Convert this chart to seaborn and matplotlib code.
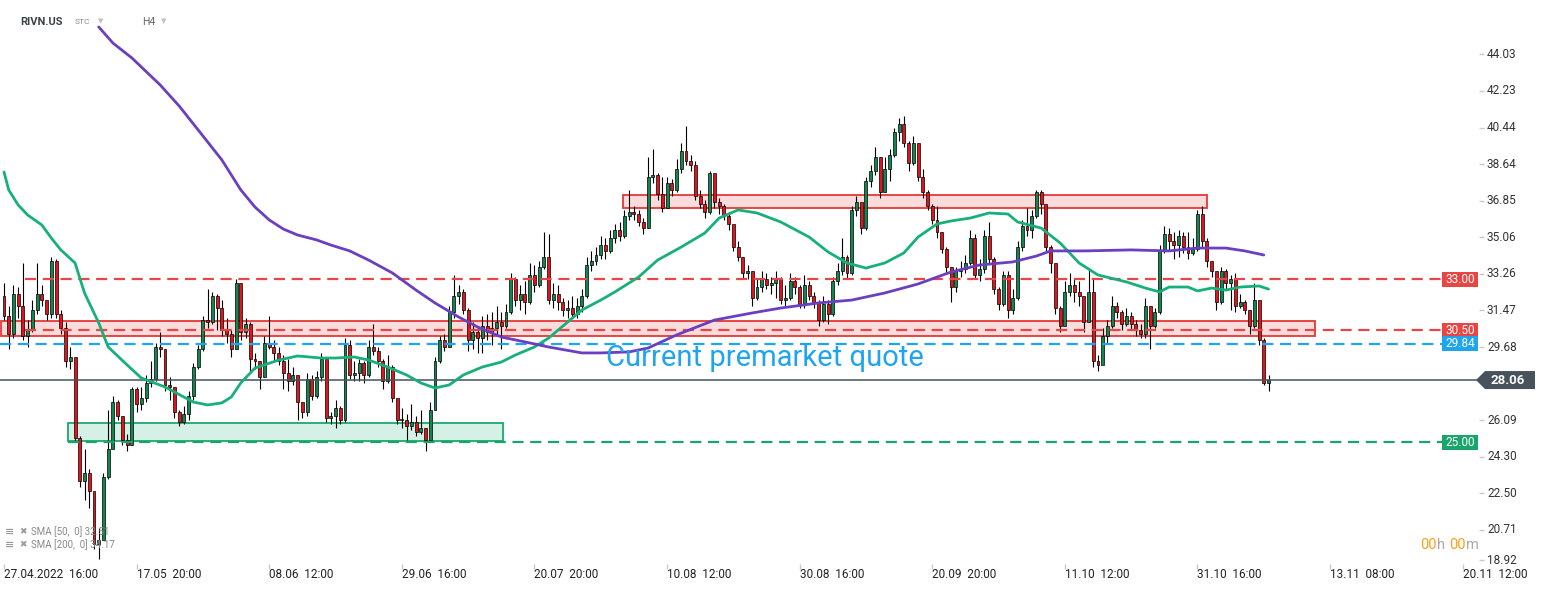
import numpy as np
import pandas as pd
import matplotlib
matplotlib.use("Agg")
import matplotlib.pyplot as plt
import seaborn as sns
from matplotlib.patches import Rectangle, Polygon

# --- RIVN.US H4 candles (open of each bar = previous close) ---
first_open = 32.2
closes = [31.2, 30.3, 32.3, 31.7, 30.2, 30.5, 31.5, 32.3, 32.0, 31.3,
          33.9, 31.3, 30.6, 29.0, 29.2, 25.2, 23.1, 23.5, 22.6, 20.0,
          20.2, 23.3, 24.7, 27.0, 26.3, 25.1, 24.9, 27.6, 26.9, 27.2,
          27.9, 28.1, 29.7, 29.6, 27.8, 27.7, 26.5, 26.0, 26.4, 27.3,
          28.7, 29.6, 31.0, 30.9, 32.2, 31.6, 30.5, 30.3, 29.6, 32.8,
          30.4, 30.8, 29.1, 29.0, 28.2, 29.9, 29.7, 29.4, 29.0, 28.4,
          28.0, 28.3, 27.0, 26.5, 28.1, 27.3, 28.2, 29.1, 26.2, 26.3,
          26.7, 26.1, 29.8, 28.3, 28.4, 28.9, 28.3, 29.7, 29.5, 29.0,
          28.0, 28.7, 27.2, 26.1, 26.1, 25.8, 26.0, 25.5, 25.7, 25.1,
          26.6, 29.0, 30.0, 29.7, 31.4, 32.2, 32.4, 31.5, 30.0, 30.4,
          30.1, 30.7, 30.4, 30.6, 30.9, 30.7, 31.4, 33.0, 32.0, 32.3,
          31.9, 33.2, 32.7, 33.6, 34.1, 32.0, 32.3, 31.9, 31.5, 31.6,
          31.3, 31.7, 32.2, 33.7, 33.9, 34.2, 34.7, 34.4, 35.0, 35.4,
          35.1, 36.1, 36.3, 36.2, 35.8, 35.5, 38.0, 38.1, 37.2, 36.5,
          37.7, 37.4, 38.4, 39.3, 38.8, 38.6, 37.1, 36.7, 36.3, 38.2,
          36.8, 36.6, 36.1, 35.7, 34.6, 34.1, 33.3, 33.4, 32.1, 32.6,
          33.0, 32.7, 32.8, 33.0, 32.0, 32.1, 32.9, 32.6, 31.8, 32.7,
          32.2, 31.9, 31.0, 31.8, 31.3, 32.9, 33.4, 34.1, 33.3, 36.4,
          36.8, 35.5, 37.8, 38.3, 39.0, 37.3, 38.4, 39.1, 40.2, 40.6,
          39.7, 38.7, 39.7, 38.0, 37.3, 36.6, 35.9, 35.3, 34.5, 33.6,
          32.6, 33.4, 33.5, 33.8, 35.0, 33.2, 33.5, 35.1, 34.0, 32.5,
          31.8, 33.2, 31.5, 32.1, 34.6, 35.6, 35.4, 36.1, 37.3, 36.7,
          34.6, 33.8, 31.6, 30.7, 32.4, 32.7, 32.4, 32.2, 30.9, 32.4,
          29.0, 28.8, 30.2, 30.7, 31.7, 31.4, 30.8, 31.2, 30.8, 30.5,
          30.3, 31.7, 30.7, 31.4, 34.4, 35.2, 34.9, 34.7, 35.1, 34.6,
          34.3, 34.5, 36.2, 34.9, 33.9, 33.4, 31.9, 33.4, 32.8, 33.0,
          31.7, 31.9, 31.5, 30.7, 32.0, 30.0, 27.9, 28.06]
highs = [32.8, 31.7, 32.7, 32.6, 33.8, 31.0, 32.0, 33.8, 32.7, 31.9,
         34.1, 34.0, 31.5, 30.9, 29.7, 26.0, 25.3, 24.7, 23.7, 22.5,
         20.8, 23.5, 26.6, 27.3, 27.1, 26.3, 25.4, 27.7, 27.7, 27.7,
         28.3, 29.0, 29.9, 30.4, 29.6, 28.2, 27.4, 26.6, 26.8, 27.5,
         28.9, 29.8, 31.2, 32.5, 32.4, 32.3, 32.0, 31.1, 30.5, 33.0,
         32.6, 31.1, 30.9, 29.4, 29.0, 30.2, 31.2, 30.0, 29.7, 29.3,
         29.1, 28.7, 28.0, 27.0, 28.4, 28.3, 28.5, 29.4, 28.7, 26.5,
         27.1, 26.8, 30.1, 30.0, 29.0, 29.1, 29.0, 30.0, 30.8, 29.7,
         29.1, 29.3, 28.8, 27.1, 26.7, 26.4, 26.9, 26.3, 26.6, 25.7,
         27.0, 29.2, 30.2, 30.3, 31.7, 33.2, 32.7, 32.5, 31.6, 30.9,
         30.7, 31.2, 31.3, 31.4, 31.7, 31.4, 31.8, 33.3, 33.1, 32.7,
         32.9, 33.8, 33.7, 33.9, 35.3, 35.2, 32.8, 32.7, 32.1, 32.0,
         32.2, 32.1, 32.5, 34.1, 34.4, 34.6, 35.1, 35.0, 35.4, 35.7,
         35.8, 36.4, 37.4, 36.6, 36.4, 36.0, 39.0, 39.4, 38.2, 38.0,
         38.0, 37.9, 38.9, 39.7, 40.5, 39.1, 38.8, 37.4, 36.9, 38.3,
         38.1, 37.0, 36.7, 36.2, 35.5, 34.9, 34.1, 33.7, 33.3, 33.0,
         33.4, 33.3, 33.1, 33.4, 33.1, 32.7, 33.3, 33.1, 32.7, 33.2,
         32.9, 32.4, 32.0, 32.2, 32.0, 33.1, 33.8, 35.0, 34.2, 36.6,
         37.1, 36.7, 38.0, 38.6, 39.5, 39.0, 39.0, 39.4, 40.4, 40.9,
         41.0, 39.8, 40.0, 39.6, 38.4, 37.4, 36.7, 36.6, 35.3, 34.6,
         33.6, 33.6, 33.9, 34.2, 35.4, 35.2, 34.0, 35.4, 35.8, 34.1,
         32.6, 33.4, 33.4, 32.5, 34.9, 35.9, 36.5, 36.4, 37.4, 37.4,
         36.3, 34.7, 32.3, 31.7, 32.9, 33.3, 33.0, 32.9, 31.8, 33.5,
         33.0, 29.3, 30.6, 31.0, 32.2, 31.9, 31.5, 31.6, 31.4, 31.0,
         30.8, 32.1, 31.7, 31.6, 34.7, 35.6, 35.5, 35.3, 35.4, 35.3,
         35.3, 35.0, 36.4, 36.6, 35.0, 33.9, 33.1, 33.6, 33.5, 33.2,
         33.3, 32.3, 32.0, 31.5, 32.8, 32.0, 30.1, 28.3]
lows = [31.0, 29.6, 30.1, 31.1, 30.0, 29.7, 30.4, 31.3, 31.7, 31.0,
        31.1, 31.1, 30.3, 28.7, 28.6, 25.0, 22.8, 22.2, 21.8, 19.8,
        19.3, 22.1, 23.2, 24.8, 26.1, 24.9, 24.6, 24.9, 26.5, 26.6,
        27.0, 27.7, 28.0, 29.2, 27.5, 27.1, 26.2, 25.8, 25.9, 26.1,
        27.1, 28.6, 29.5, 30.6, 30.8, 30.5, 30.2, 29.9, 29.2, 29.6,
        30.0, 30.1, 28.5, 28.6, 27.6, 28.2, 29.6, 29.0, 28.8, 27.6,
        27.5, 27.8, 26.1, 26.2, 26.3, 27.1, 27.2, 28.0, 26.0, 25.9,
        25.7, 25.9, 26.0, 28.1, 28.0, 28.0, 27.9, 28.2, 29.3, 28.7,
        27.6, 27.9, 27.0, 25.9, 25.7, 25.1, 25.6, 25.3, 25.4, 24.6,
        25.1, 26.6, 28.9, 29.5, 29.7, 31.1, 31.8, 31.3, 29.5, 29.6,
        29.4, 29.4, 30.0, 29.8, 30.3, 29.6, 30.6, 31.3, 31.7, 31.5,
        31.3, 31.8, 32.4, 32.6, 33.5, 31.8, 31.6, 31.5, 31.2, 31.1,
        31.1, 31.1, 31.4, 32.1, 33.4, 33.7, 34.0, 34.0, 34.3, 34.8,
        34.9, 35.0, 35.9, 35.9, 35.6, 35.2, 35.5, 37.7, 36.9, 36.3,
        36.5, 37.1, 37.3, 38.2, 38.6, 38.3, 36.9, 36.5, 36.0, 36.2,
        36.5, 36.2, 35.9, 35.4, 34.4, 33.9, 33.0, 33.0, 31.7, 32.0,
        32.4, 32.5, 32.3, 32.1, 31.8, 31.7, 32.0, 32.3, 31.6, 31.6,
        32.0, 31.6, 30.7, 30.9, 30.8, 31.2, 32.7, 33.2, 33.0, 33.2,
        36.1, 35.2, 35.4, 37.5, 38.1, 37.0, 37.3, 37.8, 39.0, 39.8,
        39.5, 38.3, 38.6, 37.8, 37.0, 36.4, 35.7, 35.0, 34.3, 33.3,
        31.9, 32.4, 33.1, 33.3, 33.7, 33.0, 32.9, 33.3, 33.8, 32.3,
        31.5, 31.7, 31.1, 31.3, 32.0, 34.4, 35.1, 35.0, 36.0, 36.2,
        34.4, 33.3, 31.3, 30.4, 30.9, 32.2, 31.9, 31.7, 30.4, 30.9,
        28.7, 28.5, 28.9, 29.9, 30.6, 31.1, 30.5, 30.7, 30.5, 30.2,
        30.1, 30.1, 29.6, 30.6, 31.3, 34.3, 34.4, 34.0, 34.1, 34.3,
        34.0, 34.2, 34.4, 34.6, 33.6, 33.1, 31.5, 31.8, 32.5, 31.5,
        31.4, 31.6, 31.3, 30.3, 30.6, 29.8, 27.8, 27.5]

# --- moving averages (at bar positions) ---
sma50_idx = [0, 1, 3, 5, 8, 10, 12, 15, 17, 20, 22, 26, 29, 34, 40, 43, 46, 48, 50, 53,
             58, 62, 67, 70, 74, 77, 81, 85, 88, 91, 94, 97, 101, 105, 108, 112, 115, 117, 122, 126,
             129, 134, 138, 143, 148, 151, 155, 159, 164, 170, 174, 178, 182, 186, 190, 193, 197, 200, 204, 208,
             212, 214, 219, 223, 227, 231, 237, 241, 244, 246, 250, 252, 255, 258, 261, 265, 267]
sma50_val = [38.26, 37.38, 36.64, 36.15, 35.66, 35.02, 34.44, 33.80, 32.33, 30.86,
             29.68, 28.80, 28.16, 27.72, 26.98, 26.84, 26.94, 27.23, 27.92, 28.65,
             29.04, 29.24, 29.14, 29.14, 29.19, 29.04, 28.70, 28.31, 27.92, 27.67,
             27.82, 28.31, 28.70, 28.94, 29.29, 29.68, 30.12, 30.51, 31.49, 31.98,
             32.38, 33.11, 33.94, 34.58, 35.27, 36.00, 36.40, 36.25, 35.81, 35.07,
             34.34, 33.80, 33.55, 33.80, 34.29, 35.07, 35.71, 35.86, 36.00, 36.25,
             36.20, 35.81, 35.51, 34.78, 33.80, 33.21, 32.87, 32.57, 32.38, 32.62,
             32.62, 32.43, 32.57, 32.47, 32.62, 32.67, 32.52]
sma200_idx = [20, 23, 27, 33, 37, 41, 46, 50, 53, 56, 59, 62, 66, 69, 73, 77, 82, 87, 91, 96,
              100, 105, 110, 115, 122, 126, 132, 136, 142, 150, 158, 164, 172, 179, 186, 193, 200, 206, 213, 218,
              221, 228, 238, 246, 252, 258, 262, 266]
sma200_val = [45.37, 44.58, 43.85, 42.52, 41.49, 40.32, 38.85, 37.38, 36.54, 35.91,
              35.46, 35.17, 34.93, 34.68, 34.39, 33.94, 33.31, 32.47, 31.84, 31.15,
              30.66, 30.17, 29.93, 29.68, 29.39, 29.39, 29.44, 29.63, 30.27, 31.00,
              31.35, 31.59, 31.84, 31.98, 32.33, 32.77, 33.36, 33.70, 33.85, 34.14,
              34.39, 34.39, 34.44, 34.39, 34.53, 34.53, 34.39, 34.19]

# --- drawn levels and zones ---
level_values = [33.00, 30.50, 29.84, 25.00]
level_labels = ["33.00", "30.50", "29.84", "25.00"]
level_colors = ["#e84545", "#e84545", "#1ea5ee", "#19a46c"]
level_start = [4.4, 4.4, -0.8, 13.5]
last_price = 28.06

zone_start = [130.7, -0.6, 13.5]
zone_end = [254.0, 276.8, 105.4]
zone_low = [36.49, 30.22, 25.05]
zone_high = [37.13, 30.95, 25.95]
zone_kind = ["red", "red", "green"]

y_ticks = [18.92, 20.71, 22.50, 24.30, 26.09, 29.68, 31.47, 33.26, 35.06, 36.85, 38.64, 40.44, 42.23, 44.03]
x_labels = ["27.04.2022  16:00", "17.05  20:00", "08.06  12:00", "29.06  16:00", "20.07  20:00",
            "10.08  12:00", "30.08  16:00", "20.09  20:00", "11.10  12:00", "31.10  16:00",
            "13.11  08:00", "20.11  12:00"]
bars_per_label = 28


# pixel -> data helpers for placing annotations
def dx(px):
    return (px - 4) / 4.736


def dy(py):
    return 46.69 - py / 20.4


sns.set_style("white")
plt.rcParams['font.family'] = ['Roboto', 'DejaVu Sans']

fig = plt.figure(figsize=(15.46, 5.9), dpi=100)
ax = fig.add_axes([0, 0, 1, 1])

# zones
for s, e, lo, hi, kind in zip(zone_start, zone_end, zone_low, zone_high, zone_kind):
    if kind == "red":
        fc, ec = (0.93, 0.25, 0.25, 0.18), "#e53935"
    else:
        fc, ec = (0.1, 0.68, 0.45, 0.18), "#19a870"
    ax.add_patch(Rectangle((s, lo), e - s, hi - lo, facecolor=fc, edgecolor=ec, lw=1.3, zorder=1))

# candles
x = np.arange(len(closes))
c = np.array(closes)
o = np.array([first_open] + closes[:-1])
h = np.array(highs)
l = np.array(lows)
up = c >= o
ax.vlines(x, l, h, color="black", lw=0.8, zorder=2)
body = np.where(np.abs(c - o) < 0.04, 0.04, c - o)
ax.bar(x[up], body[up], bottom=o[up], width=0.62, color="#12864f", edgecolor="black", lw=0.5, zorder=3)
ax.bar(x[~up], body[~up], bottom=o[~up], width=0.62, color="#e3131b", edgecolor="black", lw=0.5, zorder=3)

# moving averages
sma50 = pd.DataFrame({"bar": sma50_idx, "value": sma50_val})
sma200 = pd.DataFrame({"bar": sma200_idx, "value": sma200_val})
sns.lineplot(data=sma50, x="bar", y="value", ax=ax, color="#17b07a", lw=2, zorder=5)
sns.lineplot(data=sma200, x="bar", y="value", ax=ax, color="#6a3fc0", lw=2, zorder=5)
ax.set_xlim(dx(0), dx(1546))
ax.set_ylim(dy(590), dy(0))
ax.axis('off')

# horizontal levels with tags
tag_h = 15 / 20.4
for val, lab, col, st in zip(level_values, level_labels, level_colors, level_start):
    ax.hlines(val, st, dx(1442), color=col, lw=1.6, linestyles=(0, (5, 3)), zorder=4)
    ax.add_patch(Rectangle((dx(1442), val - tag_h / 2), dx(1478) - dx(1442), tag_h,
                           facecolor=col, edgecolor="none", zorder=6))
    ax.text(dx(1460), val, lab, color="white", fontsize=8.5, ha="center", va="center", zorder=7)

# current price line and tag
ax.hlines(last_price, dx(0), dx(1477), color="#47525c", lw=1.1, zorder=4)
th = 9 / 20.4
ax.add_patch(Polygon([(dx(1476), last_price), (dx(1485), last_price + th), (dx(1535), last_price + th),
                      (dx(1535), last_price - th), (dx(1485), last_price - th)],
                     closed=True, facecolor="#47525c", edgecolor="none", zorder=6))
ax.text(dx(1508), last_price, f"{last_price:.2f}", color="white", fontsize=9.5, fontweight="bold",
        ha="center", va="center", zorder=7)

# price axis labels
for t in y_ticks:
    ty = t if t > 20 else dy(560)
    ax.hlines(ty, dx(1479), dx(1484), color="#c8c8c8", lw=1)
    ax.text(dx(1487), ty, f"{t:.2f}", color="#333333", fontsize=8.5, ha="left", va="center")

# time axis labels
for k, lab in enumerate(x_labels):
    xi = k * bars_per_label
    ax.vlines(xi, dy(569), dy(564), color="#c8c8c8", lw=1)
    ax.text(xi, dy(575), lab, color="#222222", fontsize=8.5, ha="left", va="center")

# annotation text
ax.text(dx(606), dy(358), "Current premarket quote", color="#1ea5ee", fontsize=21,
        ha="left", va="center", zorder=8)

# header
ax.text(dx(20), dy(22), "RIVN.US", color="#3c4248", fontsize=8, fontweight="bold", ha="left", va="center")
ax.text(dx(75), dy(22), "STC", color="#8a8a8a", fontsize=6, ha="left", va="center")
ax.text(dx(101), dy(22), "▼", color="#c0c0c0", fontsize=5, ha="center", va="center")
ax.text(dx(142), dy(22), "H4", color="#666666", fontsize=7.5, ha="left", va="center")
ax.text(dx(164), dy(22), "▼", color="#c0c0c0", fontsize=5, ha="center", va="center")

# indicator legend
for ypx, lab in [(532, "SMA [50,  0] 32.51"), (545, "SMA [200,  0] 34.17")]:
    ax.text(dx(5), dy(ypx), "≡", color="#9a9a9a", fontsize=8, ha="left", va="center", fontweight="bold")
    ax.text(dx(19), dy(ypx), "✖", color="#9a9a9a", fontsize=6.5, ha="left", va="center")
    ax.text(dx(31), dy(ypx), lab, color="#8a8a8a", fontsize=7, ha="left", va="center")

# countdown
for px, s, col in [(1420, "00", "#f7a21b"), (1437, "h", "#aaaaaa"), (1449, "00", "#f7a21b"), (1466, "m", "#aaaaaa")]:
    ax.text(dx(px), dy(545), s, color=col, fontsize=10.5, ha="left", va="center")

fig.savefig("out.png", dpi=100)
